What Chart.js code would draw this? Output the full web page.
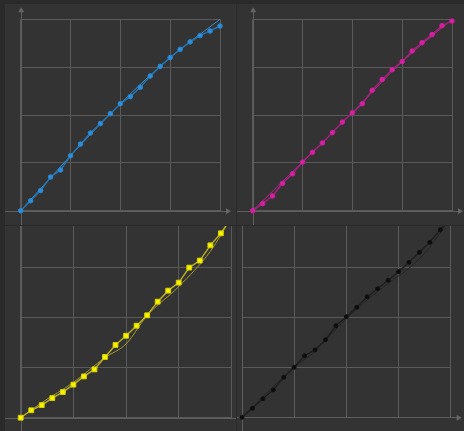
<!DOCTYPE html>
<html>
<head>
<meta charset="utf-8">
<script src="https://cdn.jsdelivr.net/npm/chart.js@4/dist/chart.umd.min.js"></script>
<style>
  html, body { margin: 0; padding: 0; background: #2a2a2a; }
  body { width: 464px; height: 431px; position: relative; overflow: hidden; }
  .panel { position: absolute; background: #333333; }
  .panel canvas { display: block; }
  #pTL { left: 5px; top: 4px; width: 231px; height: 221px; z-index: 3; box-shadow: 0 1px 0 #2a2a2a; }
  #pTR { left: 236px; top: 4px; width: 228px; height: 221px; z-index: 3; border-left: 1px solid #2b2b2b; box-shadow: 0 1px 0 #2a2a2a; }
  #pBL { left: 5px; top: 202px; width: 246px; height: 229px; z-index: 1; }
  #pBR { left: 236px; top: 202px; width: 228px; height: 229px; z-index: 2; border-left: 1px solid #2b2b2b; }
</style>
</head>
<body>
<div class="panel" id="pTL"><canvas id="cTL"></canvas></div>
<div class="panel" id="pTR"><canvas id="cTR"></canvas></div>
<div class="panel" id="pBL"><canvas id="cBL"></canvas></div>
<div class="panel" id="pBR"><canvas id="cBR"></canvas></div>
<script>
// Input steps (% of tone), shared by all four channel curves
const inputSteps = [0, 5, 10, 15, 20, 25, 30, 35, 40, 45, 50, 55, 60, 65, 70, 75, 80, 85, 90, 95, 100];

// Measured output per channel (%)
const cyanMeasured    = [0, 5.2, 10.5, 17.6, 21.3, 28.7, 34.8, 40.6, 45.5, 50.7, 55.9, 59.6, 64.5, 70.4, 75.4, 80.0, 84.3, 88.2, 91.5, 93.9, 96.5];
const magentaMeasured = [0, 3.7, 7.7, 14.3, 19.3, 25.4, 30.5, 35.4, 40.8, 46.3, 51.2, 55.9, 62.9, 68.6, 73.7, 77.9, 83.4, 87.8, 92.0, 96.7, 99.1];
const yellowMeasured  = [0, 3.7, 6.3, 9.8, 12.8, 16.5, 20.6, 24.1, 30.3, 36.3, 40.9, 45.9, 51.1, 57.9, 63.4, 67.4, 74.9, 78.4, 86.0, 92.0, 100];
const blackMeasured   = [0, 4.5, 9.3, 13.7, 20.0, 25.0, 30.8, 33.7, 38.8, 45.8, 50.3, 55.0, 60.3, 64.3, 68.5, 72.8, 77.5, 82.5, 87.5, 93.8, 100];

// Target curves (control points)
const cyanTargetX    = [0, 25, 50, 75, 100];
const cyanTarget     = [0, 28.7, 55.9, 80.0, 100];
const magentaTargetX = [0, 25, 50, 75, 100];
const magentaTarget  = [0, 25.4, 51.2, 77.9, 100];
const yellowTargetX  = [0, 10, 25, 40, 50, 60, 75, 90, 100];
const yellowTarget   = [0, 7.5, 17.6, 30, 36.8, 51, 65.4, 83, 100];
const blackTargetX   = [0, 25, 35, 50, 70, 80, 90, 100];
const blackTarget    = [0, 25, 33, 49.5, 67, 74.5, 85, 100];

// Grid ticks on both axes
const gridTicks = [0, 25, 50, 75, 100];

function pairs(xs, ys) {
  return ys.map((v, i) => ({ x: xs[i], y: v }));
}

// Axis lines that run past the plot edges, with small arrowheads
const axisArrows = {
  id: 'axisArrows',
  beforeDatasetsDraw(chart) {
    const { ctx, chartArea, scales } = chart;
    const x0 = scales.x.getPixelForValue(0);
    const y0 = scales.y.getPixelForValue(0);
    ctx.save();
    ctx.strokeStyle = '#5e5e5e';
    ctx.lineWidth = 1;
    ctx.beginPath();
    ctx.moveTo(0, Math.round(y0) + 0.5);
    ctx.lineTo(chartArea.right + 9, Math.round(y0) + 0.5);
    ctx.moveTo(Math.round(x0) + 0.5, chartArea.top - 10);
    ctx.lineTo(Math.round(x0) + 0.5, chart.height);
    ctx.stroke();
    ctx.fillStyle = '#666666';
    ctx.beginPath();
    ctx.moveTo(chartArea.right + 11, y0 + 0.5);
    ctx.lineTo(chartArea.right + 6, y0 - 2.5);
    ctx.lineTo(chartArea.right + 6, y0 + 3.5);
    ctx.closePath();
    ctx.fill();
    ctx.beginPath();
    ctx.moveTo(x0 + 0.5, chartArea.top - 12);
    ctx.lineTo(x0 - 2.5, chartArea.top - 7);
    ctx.lineTo(x0 + 3.5, chartArea.top - 7);
    ctx.closePath();
    ctx.fill();
    ctx.restore();
  }
};

function makeCurve(canvasId, pad, measured, targetX, target, style) {
  const gridOpts = { color: '#5a5a5a', lineWidth: 1, drawTicks: false };
  new Chart(document.getElementById(canvasId), {
    type: 'line',
    data: {
      datasets: [
        {
          label: 'target',
          data: pairs(targetX, target),
          borderColor: style.target,
          borderWidth: 1,
          pointRadius: 0,
          cubicInterpolationMode: 'monotone',
          clip: false,
          order: 2
        },
        {
          label: 'measured',
          data: pairs(inputSteps, measured),
          borderColor: style.line,
          borderWidth: 1.4,
          pointStyle: style.pointStyle,
          pointRadius: style.pointRadius,
          pointBackgroundColor: style.point,
          pointBorderColor: style.pointBorder,
          pointBorderWidth: 1,
          tension: 0,
          clip: false,
          order: 1
        }
      ]
    },
    options: {
      responsive: true,
      maintainAspectRatio: false,
      animation: false,
      events: [],
      layout: { padding: pad },
      plugins: { legend: { display: false }, tooltip: { enabled: false } },
      scales: {
        x: {
          type: 'linear', min: 0, max: 100,
          afterBuildTicks: (s) => { s.ticks = gridTicks.map(v => ({ value: v })); },
          ticks: { display: false },
          grid: gridOpts,
          border: { display: false }
        },
        y: {
          type: 'linear', min: 0, max: 100,
          afterBuildTicks: (s) => { s.ticks = gridTicks.map(v => ({ value: v })); },
          ticks: { display: false },
          grid: gridOpts,
          border: { display: false }
        }
      }
    },
    plugins: [axisArrows]
  });
}

makeCurve('cTL', { left: 15.7, right: 16, top: 15.3, bottom: 14.3 }, cyanMeasured, cyanTargetX, cyanTarget,
  { line: '#2275b5', target: '#3a8ccc', point: '#2d8fdc', pointBorder: '#2a86cf', pointStyle: 'circle', pointRadius: 2.3 });
makeCurve('cTR', { left: 15.7, right: 13, top: 15.3, bottom: 14.3 }, magentaMeasured, magentaTargetX, magentaTarget,
  { line: '#a8207f', target: '#b42c8e', point: '#d820a4', pointBorder: '#cc1f9a', pointStyle: 'circle', pointRadius: 2.3 });
makeCurve('cBL', { left: 15.7, right: 19.6, top: 15.3, bottom: 13.3 }, yellowMeasured, yellowTargetX, yellowTarget,
  { line: '#bdb224', target: '#a89f2a', point: '#f7f300', pointBorder: '#d8d200', pointStyle: 'rect', pointRadius: 3.4 });
makeCurve('cBR', { left: 3.3, right: 14.3, top: 15.3, bottom: 13.7 }, blackMeasured, blackTargetX, blackTarget,
  { line: '#1e1e1e', target: '#242424', point: '#0c0c0c', pointBorder: '#111111', pointStyle: 'circle', pointRadius: 2 });
</script>
</body>
</html>
